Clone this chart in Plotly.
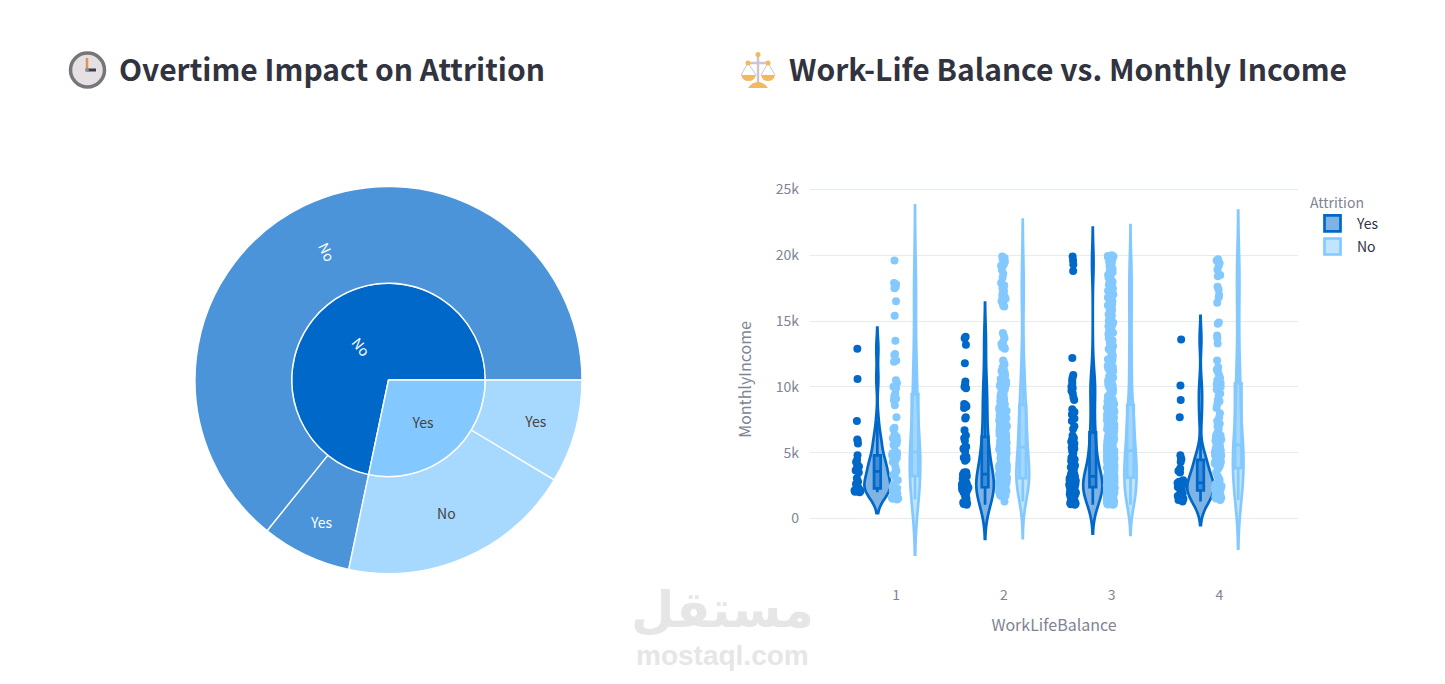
import plotly.graph_objects as go

FONT = "Noto Sans CJK SC"
DARK = "#0068c9"
LIGHT = "#83c9ff"
GRID = "#e6eaf1"
MUTED = "#808495"
TEXT = "#31333f"

# sunburst values: OverTime -> Attrition headcounts
sun_ids = ["No", "Yes", "No/No", "No/Yes", "Yes/No", "Yes/Yes"]
sun_labels = ["No", "Yes", "No", "Yes", "No", "Yes"]
sun_parents = ["", "", "No", "No", "Yes", "Yes"]
sun_values = [1054, 416, 944, 110, 289, 127]
sun_colors = [DARK, LIGHT, DARK, DARK, LIGHT, LIGHT]

balance_levels = [1, 2, 3, 4]
income_ticks = [0, 5000, 10000, 15000, 20000, 25000]
income_tick_labels = ["0", "5k", "10k", "15k", "20k", "25k"]

yes_1 = [
    2000, 2040, 2080, 2120, 2180, 2230, 2290, 2350, 2450, 2620,
    2800, 3050, 3500, 3650, 3750, 3950, 4100, 4300, 4450, 4800,
    5700, 5900, 6000, 7400, 10600, 12900,
]
yes_2 = [
    1050, 1100, 1150, 1210, 1300, 1480, 1690, 1810, 1900, 2010,
    2040, 2110, 2150, 2200, 2290, 2350, 2400, 2430, 2470, 2490,
    2520, 2560, 2580, 2610, 2650, 2670, 2700, 2760, 2800, 3010,
    3200, 3350, 3400, 3450, 3480, 3500, 3520, 4380, 4500, 4620,
    4700, 5100, 5200, 5290, 5400, 5450, 5900, 6100, 6300, 6700,
    7600, 7700, 8400, 8500, 8600, 8700, 9900, 10000, 10200, 10400,
    11800, 13200, 13700, 13800,
]
yes_3 = [
    1050, 1090, 1130, 1180, 1240, 1310, 1390, 1440, 1520, 1590,
    1650, 1710, 1780, 1840, 1890, 1950, 2010, 2060, 2120, 2180,
    2230, 2290, 2360, 2410, 2440, 2470, 2490, 2520, 2540, 2570,
    2590, 2620, 2640, 2680, 2710, 2730, 2770, 2800, 2840, 2880,
    2910, 2950, 3000, 3060, 3110, 3180, 3230, 3320, 3400, 3510,
    3620, 3770, 3900, 4020, 4210, 4360, 4490, 4620, 4810, 4950,
    5130, 5290, 5400, 5550, 5700, 5830, 5990, 6120, 6300, 6800,
    7000, 7400, 7600, 7900, 8100, 8300, 9000, 9200, 9500, 9700,
    9900, 10000, 10100, 10300, 10500, 10700, 10900, 12200, 18800, 19300,
    19600, 19900,
]
yes_4 = [
    1300, 1400, 1500, 1700, 1800, 1900, 2100, 2200, 2300, 2400,
    2450, 2500, 2600, 2700, 2800, 2900, 3500, 3600, 3800, 4300,
    4500, 4600, 4800, 7700, 9000, 10100, 13600,
]

no_1 = [
    1450, 1500, 1520, 1560, 1600, 1900, 1950, 2000, 2050, 2100,
    2200, 2250, 2300, 2400, 2600, 2900, 3200, 3300, 3400, 3500,
    3600, 3900, 4200, 4300, 4400, 4500, 4600, 4700, 4750, 4800,
    4900, 4950, 5000, 5050, 5500, 5600, 5700, 5800, 5900, 6100,
    6200, 6300, 6400, 6800, 6900, 7700, 8600, 9000, 9100, 9300,
    9500, 9900, 10000, 10300, 10500, 11900, 12000, 12400, 12500, 13500,
    15400, 16500, 17500, 17600, 17800, 17900, 19600,
]
no_2 = [
    1300, 1710, 1760, 1790, 1860, 1910, 1940, 2010, 2020, 2070,
    2090, 2130, 2140, 2190, 2200, 2250, 2260, 2310, 2320, 2370,
    2380, 2430, 2440, 2490, 2500, 2550, 2560, 2610, 2620, 2650,
    2660, 2690, 2700, 2730, 2740, 2770, 2780, 2810, 2820, 2850,
    2860, 2890, 2900, 2940, 2950, 2990, 3030, 3050, 3110, 3130,
    3190, 3210, 3270, 3290, 3350, 3370, 3430, 3450, 3510, 3530,
    3590, 3610, 3670, 3690, 3750, 3770, 3830, 3850, 3910, 3940,
    4010, 4040, 4110, 4140, 4210, 4240, 4310, 4340, 4410, 4440,
    4510, 4540, 4610, 4640, 4710, 4740, 4810, 4840, 4910, 4970,
    5070, 5140, 5260, 5310, 5390, 5440, 5520, 5590, 5640, 5710,
    5790, 5830, 5910, 5960, 6040, 6090, 6170, 6220, 6280, 6360,
    6410, 6490, 6530, 6620, 6660, 6740, 6790, 6870, 6920, 6990,
    7060, 7120, 7190, 7230, 7310, 7370, 7420, 7500, 7560, 7610,
    7690, 7750, 7820, 7880, 7930, 8010, 8070, 8140, 8190, 8260,
    8330, 8390, 8460, 8520, 8610, 8700, 8900, 9100, 9400, 9600,
    9800, 10000, 10100, 10200, 10300, 10400, 10500, 10700, 10900, 11100,
    11300, 11500, 11900, 12000, 12900, 13000, 13100, 13400, 13700, 13900,
    14100, 16100, 16200, 16400, 16600, 16800, 16900, 17000, 17200, 17300,
    17700, 17900, 18300, 18600, 18900, 19100, 19200, 19300, 19500, 19700,
    19800, 19900,
    1720, 1820, 1880, 1960, 2040, 2110, 2170, 2230, 2290, 2350,
    2410, 2470, 2530, 2590, 2630, 2670, 2710, 2750, 2790, 2830,
    2870, 2910, 2960, 2920, 2980, 3070, 3160, 3240, 3320, 3400,
    3480, 3560, 3640, 3720, 3800, 3880, 3970, 4070, 4170, 4270,
    4370, 4470, 4570, 4670, 4770, 4870, 4950, 5020, 5100, 5180,
    5300, 5450, 5610, 5750, 5870, 6010, 6150, 6260, 6390, 6510,
    6640, 6770, 6900, 7040, 7170, 7290, 7450, 7590, 7720, 7850,
    7990, 8120, 8300, 8450, 8660, 8800, 9000, 9250, 9500, 9700,
    9900, 10050, 10150, 10250, 10350, 10450, 10600, 10800, 11000, 11200,
    11400, 11700, 12950, 13050, 13250, 16150, 16500, 16700, 17100, 17500,
]
no_3 = [
    1050, 1090, 1110, 1150, 1180, 1220, 1250, 1290, 1310, 1360,
    1390, 1430, 1460, 1500, 1530, 1570, 1600, 1640, 1670, 1710,
    1740, 1780, 1810, 1850, 1880, 1920, 1950, 1990, 2020, 2060,
    2090, 2130, 2160, 2200, 2230, 2270, 2300, 2340, 2370, 2410,
    2440, 2480, 2510, 2550, 2580, 2620, 2650, 2690, 2720, 2760,
    2790, 2830, 2860, 2910, 2980, 3060, 3130, 3210, 3240, 3280,
    3310, 3350, 3390, 3420, 3460, 3490, 3530, 3570, 3600, 3640,
    3670, 3710, 3750, 3780, 3820, 3850, 3890, 3930, 3960, 4000,
    4030, 4070, 4110, 4140, 4180, 4210, 4250, 4290, 4320, 4360,
    4390, 4430, 4470, 4500, 4540, 4570, 4610, 4650, 4680, 4720,
    4750, 4790, 4830, 4860, 4900, 4930, 4970, 5010, 5040, 5080,
    5110, 5150, 5190, 5240, 5300, 5360, 5420, 5480, 5540, 5600,
    5660, 5720, 5780, 5840, 5900, 5960, 6020, 6080, 6140, 6200,
    6260, 6320, 6380, 6440, 6500, 6560, 6620, 6680, 6740, 6800,
    6860, 6920, 6980, 7040, 7100, 7160, 7220, 7280, 7340, 7400,
    7460, 7520, 7580, 7640, 7700, 7760, 7820, 7880, 7940, 8000,
    8090, 8180, 8270, 8360, 8450, 8540, 8620, 8720, 8900, 9110,
    9290, 9520, 9680, 9910, 10090, 10320, 10480, 10710, 10890, 11120,
    11300, 11510, 11690, 11920, 12100, 12310, 12620, 12790, 13010, 13420,
    13810, 13990, 14220, 14610, 15020, 15410, 15820, 15990, 16210, 16380,
    16620, 16790, 17010, 17180, 17390, 17610, 17780, 17990, 18220, 18390,
    18610, 18790, 18980, 19190, 19380, 19510, 19620, 19730, 19840, 19900,
    19950, 20000,
    1070, 1130, 1200, 1270, 1340, 1410, 1480, 1550, 1620, 1690,
    1760, 1830, 1900, 1970, 2040, 2110, 2180, 2250, 2320, 2390,
    2460, 2530, 2600, 2670, 2740, 2810, 2880, 2950, 3020, 3100,
    1125, 1195, 1265, 1335, 1405, 1475, 1545, 1615, 1685, 1755,
    1825, 1895, 1965, 2035, 2105, 2175, 2245, 2315, 2385, 2455,
    3230, 3300, 3370, 3440, 3510, 3580, 3650, 3720, 3790, 3860,
    3930, 4010, 4080, 4150, 4220, 4300, 4370, 4440, 4520, 4590,
    4660, 4730, 4810, 4880, 4950, 5020, 5100, 5170, 3260, 3340,
    3400, 3480, 3550, 3620, 3690, 3760, 3830, 3900, 3980, 4050,
    4120, 4190, 4270, 4340, 4410, 4490, 4560, 4630, 4700, 4780,
    5210, 5280, 5350, 5430, 5500, 5570, 5640, 5700, 5770, 5850,
    5920, 5990, 6060, 6130, 6210, 6280, 6350, 6420, 6490, 6570,
    6640, 6710, 6780, 6850, 6930, 7000, 7070, 7140, 7210, 7290,
    7360, 7430, 7500, 7570, 7650, 7720, 7790, 7860, 7930, 8010,
    8080, 8150, 8220, 8290, 8370, 8440, 8510, 8580, 8640, 8600,
    8800, 9010, 9200, 9410, 9600, 9810, 10000, 10210, 10390, 10600,
    10800, 11010, 11210, 11400, 11610, 11810, 12010, 12210, 12380, 12700,
    12880, 13100, 13310, 13520, 13700, 13900, 14110, 14300, 14500, 14700,
    14900, 15110, 15300, 15500, 15700, 15900, 16100, 16300, 16500, 16700,
    16900, 17100, 17300, 17500, 17700, 17900, 18100, 18300, 18500, 18700,
]
no_4 = [
    1400, 1520, 1580, 1650, 1720, 1790, 1850, 1920, 1990, 2050,
    2110, 2180, 2250, 2330, 2390, 2460, 2540, 2620, 2700, 2810,
    2930, 3050, 3240, 3490, 3790, 3910, 3980, 4040, 4110, 4170,
    4240, 4300, 4360, 4430, 4490, 4550, 4620, 4680, 4740, 4800,
    4860, 4930, 4990, 5050, 5120, 5180, 5260, 5340, 5490, 5600,
    5700, 5800, 5900, 6000, 6100, 6200, 6300, 6400, 6600, 6800,
    7000, 7200, 7400, 7700, 8000, 8400, 8700, 8900, 9000, 9300,
    9500, 9800, 10000, 10200, 10300, 10500, 10700, 10900, 11100, 11300,
    11500, 12000, 13300, 13700, 13900, 14800, 14900, 16400, 16800, 17000,
    17400, 17600, 18400, 18500, 18900, 19200, 19400, 19600, 19700,
]

yes_incomes = [yes_1, yes_2, yes_3, yes_4]
no_incomes = [no_1, no_2, no_3, no_4]

# kde bandwidths picked so the violin tails reach the same place as the picture
yes_bandwidths = [800, 1300, 1100, 900]
no_bandwidths = [2100, 1400, 1150, 1850]


def px_x(x):
    return x / 1445


def px_y(y):
    return 1 - y / 684


def icon_shape(kind, x0, y0, x1, y1, fill=None, line=None, width=0):
    return dict(type=kind, xref="paper", yref="paper",
                x0=px_x(x0), y0=px_y(y0), x1=px_x(x1), y1=px_y(y1),
                fillcolor=fill, line=dict(color=line, width=width))


def pan_path(x0, x1, y0, y1):
    mid = (x0 + x1) / 2
    return (f"M {px_x(x0)} {px_y(y0)} L {px_x(x1)} {px_y(y0)} "
            f"Q {px_x(mid + 6)} {px_y(y1)} {px_x(mid)} {px_y(y1)} "
            f"Q {px_x(mid - 6)} {px_y(y1)} {px_x(x0)} {px_y(y0)} Z")


fig = go.Figure()

fig.add_trace(go.Sunburst(
    ids=sun_ids, labels=sun_labels, parents=sun_parents, values=sun_values,
    branchvalues="total",
    marker=dict(colors=sun_colors, line=dict(color="white", width=1.4)),
    insidetextfont=dict(size=14),
    domain=dict(x=[px_x(195), px_x(582)], y=[px_y(573.5), px_y(186.5)]),
))

for name, color, incomes, bandwidths in [
    ("Yes", DARK, yes_incomes, yes_bandwidths),
    ("No", LIGHT, no_incomes, no_bandwidths),
]:
    for i, level in enumerate(balance_levels):
        fig.add_trace(go.Violin(
            x=[level] * len(incomes[i]), y=incomes[i],
            name=name, legendgroup=name, showlegend=i == 0,
            alignmentgroup="all", offsetgroup=name, scalegroup="all",
            scalemode="width", bandwidth=bandwidths[i],
            points="all", box=dict(visible=True),
            line=dict(color=color, width=2.7), marker=dict(color=color, size=8),
        ))

# emoji font is not available, so both title icons are drawn
clock = [
    icon_shape("circle", 70.5, 53, 104.5, 87, fill="#e6dfe3", line="#76767a", width=3.5),
    icon_shape("line", 87, 58, 87, 69, line="#e0954f", width=2.5),
    icon_shape("line", 87, 70, 96, 70, line="#3b3f4a", width=3),
    icon_shape("circle", 85, 68, 89, 72, fill="#8a8d96", line="#8a8d96"),
]
scales = [
    icon_shape("line", 758, 55, 758, 83, line="#c9c6d0", width=2.5),
    icon_shape("line", 748, 63, 768, 63, line="#c9c6d0", width=2.5),
    icon_shape("line", 748, 63, 741, 75, line="#c9c6d0", width=1),
    icon_shape("line", 748, 63, 756, 75, line="#c9c6d0", width=1),
    icon_shape("line", 768, 63, 761, 75, line="#c9c6d0", width=1),
    icon_shape("line", 768, 63, 775, 75, line="#c9c6d0", width=1),
    dict(type="path", xref="paper", yref="paper", path=pan_path(741, 756, 75, 81),
         fillcolor="#f4b860", line=dict(width=0)),
    dict(type="path", xref="paper", yref="paper", path=pan_path(761, 775, 75, 81),
         fillcolor="#f4b860", line=dict(width=0)),
    dict(type="path", xref="paper", yref="paper", path=pan_path(748, 768, 88, 82),
         fillcolor="#f4b860", line=dict(width=0)),
    icon_shape("circle", 755.5, 52, 760.5, 57, fill="#f4b860", line="#f4b860"),
    icon_shape("circle", 745.5, 60.5, 750.5, 65.5, fill="#f4b860", line="#f4b860"),
    icon_shape("circle", 765.5, 60.5, 770.5, 65.5, fill="#f4b860", line="#f4b860"),
]

titles = [
    dict(text="Overtime Impact on Attrition", xref="paper", yref="paper",
         x=px_x(116.5), y=px_y(68.5), xanchor="left", yanchor="middle", showarrow=False,
         font=dict(family=FONT, size=30, color=TEXT, weight=600)),
    dict(text="Work-Life Balance vs. Monthly Income", xref="paper", yref="paper",
         x=px_x(787), y=px_y(68.5), xanchor="left", yanchor="middle", showarrow=False,
         font=dict(family=FONT, size=30, color=TEXT, weight=600)),
    dict(text="مستقل", xref="paper", yref="paper",
         x=px_x(722), y=px_y(610), xanchor="center", yanchor="middle", showarrow=False,
         font=dict(family="DejaVu Sans", size=50, color="#e6e6e6", weight=700)),
    dict(text="mostaql.com", xref="paper", yref="paper",
         x=px_x(722), y=px_y(655), xanchor="center", yanchor="middle", showarrow=False,
         font=dict(family="Liberation Sans", size=28, color="#e6e6e6", weight=700)),
]

fig.update_layout(
    width=1445, height=684,
    margin=dict(l=0, r=0, t=0, b=0, autoexpand=False),
    paper_bgcolor="white", plot_bgcolor="white",
    font=dict(family=FONT, size=14, color=TEXT),
    violinmode="group",
    annotations=titles,
    shapes=clock + scales,
    legend=dict(
        title=dict(text="Attrition", font=dict(color=MUTED, size=14)),
        x=px_x(1308), xanchor="left", y=px_y(189.5), yanchor="top",
        tracegroupgap=2, itemwidth=39, font=dict(size=14, color=TEXT),
    ),
    xaxis=dict(
        domain=[px_x(810), px_x(1298)], range=[0.2, 4.73],
        tickmode="array", tickvals=balance_levels, ticktext=[str(v) for v in balance_levels],
        showgrid=False, zeroline=False, showline=False, ticks="",
        tickfont=dict(color=MUTED, size=14), ticklabelstandoff=14,
        title=dict(text="WorkLifeBalance", font=dict(color=MUTED, size=16), standoff=16),
    ),
    yaxis=dict(
        domain=[px_y(571), px_y(188)], range=[-3990, 25110],
        tickmode="array", tickvals=income_ticks, ticktext=income_tick_labels,
        gridcolor=GRID, zerolinecolor=GRID, gridwidth=1.4, zerolinewidth=1.4,
        showline=False, ticks="",
        tickfont=dict(color=MUTED, size=14), ticklabelstandoff=10,
        title=dict(text="MonthlyIncome", font=dict(color=MUTED, size=16), standoff=20),
    ),
)

# legend swatches are larger in the picture than plotly's fixed 12px box
page_fix = """
document.body.style.margin = '0';
document.querySelectorAll('path.legendbox').forEach(function (p) {
    p.setAttribute('d', 'M8,8H-8V-8H8Z');
});
"""

fig.write_html("out.html", config={"displayModeBar": False}, post_script=page_fix)
